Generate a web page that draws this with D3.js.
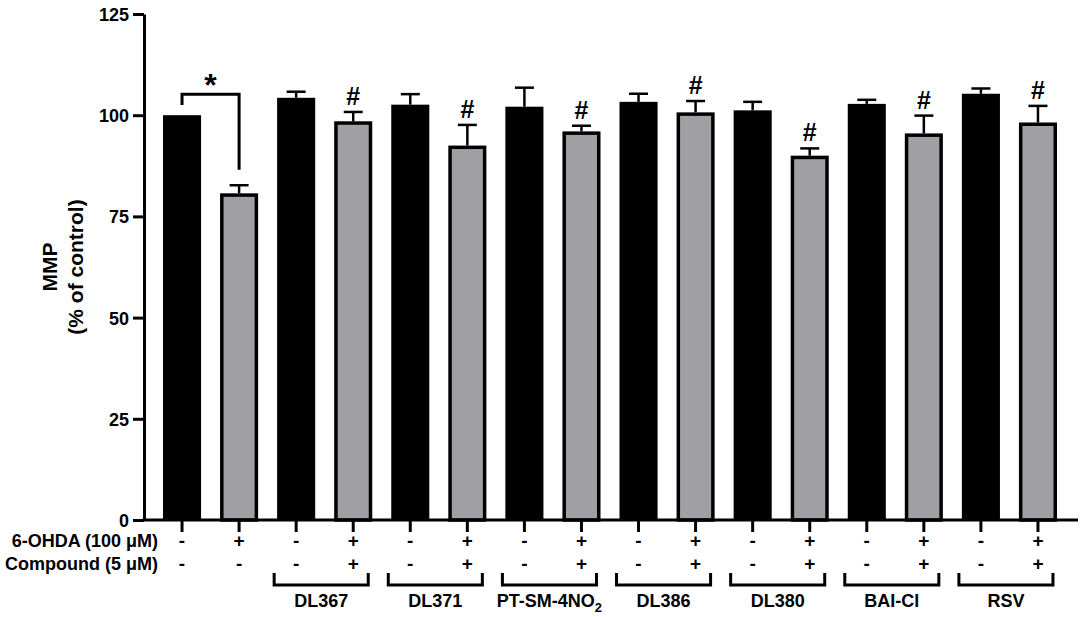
<!DOCTYPE html>
<html>
<head>
<meta charset="utf-8">
<script src="https://cdn.jsdelivr.net/npm/d3@7"></script>
<style>
  body { margin: 0; background: #fff; }
  svg text { font-family: "Liberation Sans", Arial, sans-serif; font-weight: bold; fill: #000; }
</style>
</head>
<body>
<svg id="chart" width="1084" height="617"></svg>
<script>
// ---- data ----
const barLabels = ["ctrl","6-OHDA","DL367","DL367+6-OHDA","DL371","DL371+6-OHDA","PT-SM-4NO2","PT-SM-4NO2+6-OHDA","DL386","DL386+6-OHDA","DL380","DL380+6-OHDA","BAI-Cl","BAI-Cl+6-OHDA","RSV","RSV+6-OHDA"];
const meanValues = [100, 80.7, 104.3, 98.5, 102.6, 92.5, 102.1, 96.0, 103.3, 100.7, 101.2, 90.0, 102.8, 95.5, 105.3, 98.2];
const errValues  = [0, 2.0, 1.5, 2.3, 2.6, 5.1, 4.7, 1.4, 2.0, 2.8, 2.1, 1.8, 1.0, 4.4, 1.3, 4.1];
const barType    = ["black","gray","black","gray","black","gray","black","gray","black","gray","black","gray","black","gray","black","gray"];
const ohdaSigns  = ["-","+","-","+","-","+","-","+","-","+","-","+","-","+","-","+"];
const compSigns  = ["-","-","-","+","-","+","-","+","-","+","-","+","-","+","-","+"];
const hashMarks  = [3,5,7,9,11,13,15];
const groupNames = ["DL367","DL371","PT-SM-4NO2","DL386","DL380","BAI-Cl","RSV"];
const groupStart = [2,4,6,8,10,12,14];
const yTicks     = [0,25,50,75,100,125];

const svg = d3.select("#chart");
const y = d3.scaleLinear().domain([0,125]).range([520,14]);
const x = d3.scaleBand().domain(d3.range(barLabels.length)).range([144,1076]).paddingInner(0.333).paddingOuter(0.333);
const bw = x.bandwidth();
const cx = i => x(i) + bw/2;

// y axis
const yAxis = d3.axisLeft(y).tickValues(yTicks).tickSize(11).tickPadding(4).tickSizeOuter(0);
const ga = svg.append("g").attr("transform","translate(144,0)").call(yAxis);
ga.select(".domain").attr("stroke","#000").attr("stroke-width",3);
ga.selectAll(".tick line").attr("stroke","#000").attr("stroke-width",3);
ga.selectAll(".tick text").style("font-size","18px").style("font-family","Liberation Sans, Arial, sans-serif").style("font-weight","bold").attr("dy","0.36em");

// y title
const yt = svg.append("text").attr("transform","translate(57,267) rotate(-90)").attr("text-anchor","middle").style("font-size","21px");
yt.append("tspan").attr("x",0).attr("dy",0).text("MMP");
yt.append("tspan").attr("x",0).attr("dy","1.25em").text("(% of control)");

// bars
svg.append("g").selectAll("rect").data(meanValues).join("rect")
  .attr("x",(d,i)=> barType[i]==="gray" ? x(i)+1.75 : x(i))
  .attr("width",(d,i)=> barType[i]==="gray" ? bw-3.5 : bw)
  .attr("y",(d,i)=> barType[i]==="gray" ? y(d)+1.75 : y(d))
  .attr("height",(d,i)=> barType[i]==="gray" ? y(0)-y(d)-1.75 : y(0)-y(d))
  .attr("fill",(d,i)=> barType[i]==="gray" ? "#a09fa4" : "#000")
  .attr("stroke",(d,i)=> barType[i]==="gray" ? "#000" : "none")
  .attr("stroke-width",3.5);

// error bars
const eg = svg.append("g").attr("stroke","#000").attr("stroke-width",2.5);
meanValues.forEach((d,i)=>{
  if (errValues[i] <= 0) return;
  eg.append("line").attr("x1",cx(i)).attr("x2",cx(i)).attr("y1",y(d)).attr("y2",y(d+errValues[i]));
  eg.append("line").attr("x1",cx(i)-9.5).attr("x2",cx(i)+9.5).attr("y1",y(d+errValues[i])).attr("y2",y(d+errValues[i]));
});

// hash marks
hashMarks.forEach(i=>{
  svg.append("text").attr("x",cx(i)).attr("y",y(meanValues[i]+errValues[i])-7)
    .attr("text-anchor","middle").style("font-size","25px").text("#");
});

// significance bracket
const topB = y(105.2);
svg.append("path")
  .attr("d",`M${cx(0)},${y(102.5)} V${topB} H${cx(1)} V${y(86.5)}`)
  .attr("fill","none").attr("stroke","#000").attr("stroke-width",3);
svg.append("text").attr("x",(cx(0)+cx(1))/2).attr("y",topB+2).attr("text-anchor","middle").style("font-size","32px").text("*");

// x axis line and ticks
svg.append("line").attr("x1",142.5).attr("x2",1078).attr("y1",520).attr("y2",520).attr("stroke","#000").attr("stroke-width",3);
svg.append("g").selectAll("line").data(barLabels).join("line")
  .attr("x1",(d,i)=>cx(i)).attr("x2",(d,i)=>cx(i)).attr("y1",520).attr("y2",532)
  .attr("stroke","#000").attr("stroke-width",3);

// row labels
svg.append("text").attr("x",158).attr("y",547).attr("text-anchor","end").style("font-size","18px").text("6-OHDA (100 \u03BCM)");
svg.append("text").attr("x",158).attr("y",570).attr("text-anchor","end").style("font-size","18px").text("Compound (5 \u03BCM)");
ohdaSigns.forEach((s,i)=> svg.append("text").attr("x",cx(i)).attr("y",547).attr("text-anchor","middle").style("font-size","19px").text(s));
compSigns.forEach((s,i)=> svg.append("text").attr("x",cx(i)).attr("y",570).attr("text-anchor","middle").style("font-size","19px").text(s));

// group brackets and labels
groupNames.forEach((g,k)=>{
  const a = cx(groupStart[k]) - 22, b = cx(groupStart[k]+1) + 15;
  svg.append("path").attr("d",`M${a},${573} V${585} H${b} V${573}`).attr("fill","none").attr("stroke","#000").attr("stroke-width",3);
  const t = svg.append("text").attr("x",(a+b)/2).attr("y",607).attr("text-anchor","middle").style("font-size","18px");
  if (g === "PT-SM-4NO2") {
    t.append("tspan").text("PT-SM-4NO");
    t.append("tspan").attr("dy",5).style("font-size","13px").text("2");
  } else t.text(g);
});
</script>
</body>
</html>
